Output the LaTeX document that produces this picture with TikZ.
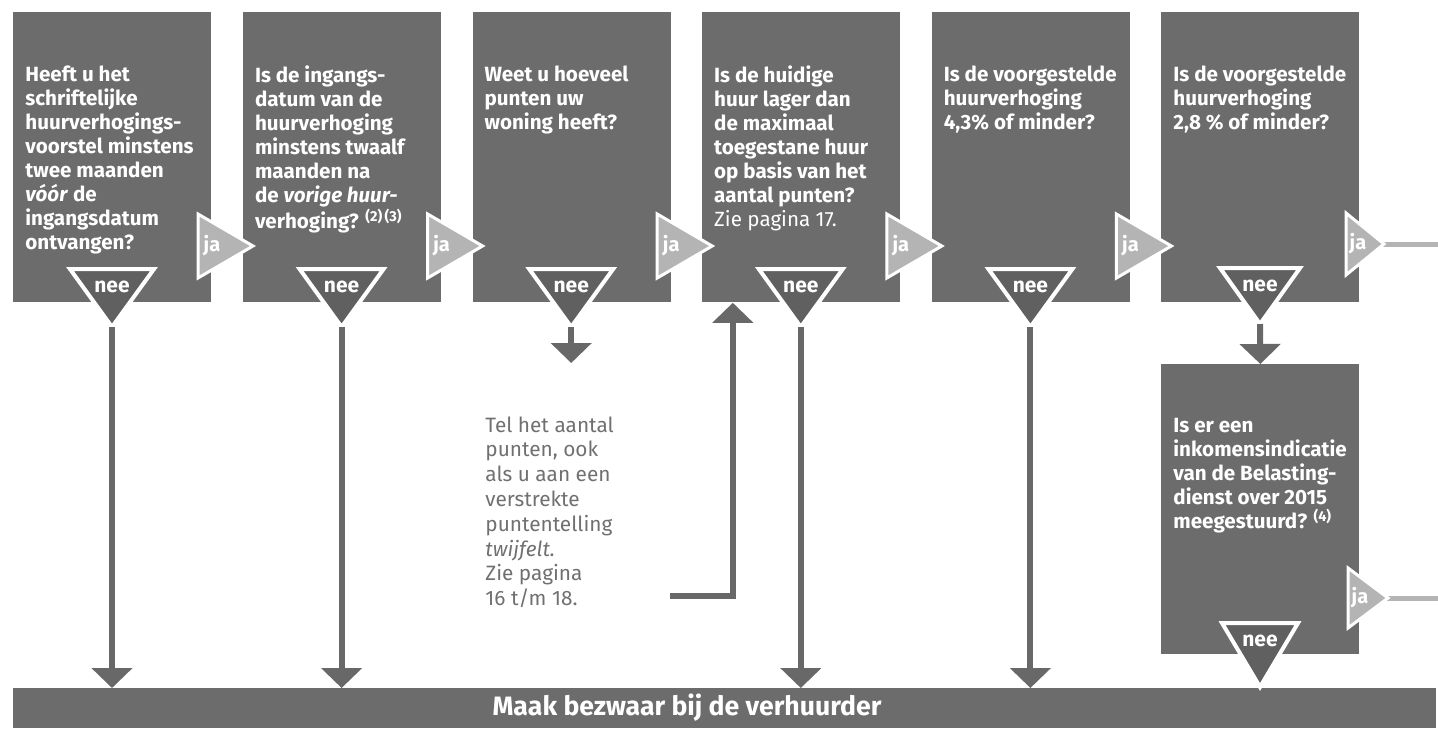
\documentclass[tikz,border=0pt]{standalone}
\usepackage{fontspec}
\setmainfont{Fira Sans}
\usetikzlibrary{arrows.meta,calc}
\definecolor{vakgrijs}{RGB}{108,108,108}
\definecolor{neegrijs}{RGB}{96,96,96}
\definecolor{jagrijs}{RGB}{180,180,180}
\definecolor{pijlgrijs}{RGB}{104,104,104}
\definecolor{tekstgrijs}{RGB}{112,112,112}
\tikzset{
  vak/.style={fill=vakgrijs,anchor=north west,minimum width=99pt,minimum height=145pt,inner sep=0pt},
  vraag/.style={text=white,font=\bfseries\fontsize{10.3}{12}\selectfont,align=left,anchor=north west,inner sep=0pt},
  neevorm/.style={fill=neegrijs,draw=white,line width=2pt},
  neetekst/.style={text=white,font=\bfseries\fontsize{10.5}{12}\selectfont,inner sep=0pt},
  javorm/.style={fill=jagrijs,draw=white,line width=1.5pt},
  jatekst/.style={text=white,font=\bfseries\fontsize{10}{12}\selectfont,inner sep=0pt},
  pijl/.style={draw=pijlgrijs,line width=3pt,-{Triangle[width=20pt,length=10pt]}},
  uitlijn/.style={draw=jagrijs,line width=2.5pt},
  teltekst/.style={text=tekstgrijs,font=\fontsize{10.4}{12.4}\selectfont,align=left,anchor=north west,inner sep=0pt},
  balk/.style={fill=vakgrijs,anchor=north west,minimum width=711.5pt,minimum height=20pt,inner sep=0pt},
  balktekst/.style={text=white,font=\bfseries\fontsize{13.3}{15}\selectfont,inner sep=0pt}
}
\begin{document}
\begin{tikzpicture}[x=0.5pt,y=-0.5pt]
    \useasboundingbox (0,0) rectangle (1438,729);
    \node[vak] (v1) at (13,12) {};
    \node[vak] (v2) at (242.6,12) {};
    \node[vak] (v3) at (472.2,12) {};
    \node[vak] (v4) at (701.8,12) {};
    \node[vak] (v5) at (931.4,12) {};
    \node[vak] (v6) at (1161,12) {};
    \node[vak] (v7) at (1161,364) {};
    \node[balk] (balk) at (13,688) {};
    \node[vraag] (q1) at (25,65) {Heeft u het\\schriftelijke\\huurverhogings-\\voorstel minstens\\twee maanden\\\textit{vóór} de\\ingangsdatum\\ontvangen?};
    \node[vraag] (q2) at (254.6,65) {Is de ingangs-\\datum van de\\huurverhoging\\minstens twaalf\\maanden na\\de \textit{vorige huur-}\\verhoging? \textsuperscript{(2)\,(3)}};
    \node[vraag] (q3) at (484.2,65) {Weet u hoeveel\\punten uw\\woning heeft?};
    \node[vraag] (q4) at (713.8,65) {Is de huidige\\huur lager dan\\de maximaal\\toegestane huur\\op basis van het\\aantal punten?\\{\mdseries Zie pagina 17.}};
    \node[vraag] (q5) at (943.4,65) {Is de voorgestelde\\huurverhoging\\4,3\% of minder?};
    \node[vraag] (q6) at (1173,65) {Is de voorgestelde\\huurverhoging\\2,8 \% of minder?};
    \node[vraag] (q7) at (1173,418) {Is er een\\inkomensindicatie\\van de Belasting-\\dienst over 2015\\meegestuurd? \textsuperscript{(4)}};
    \node[teltekst] (tel) at (485,416) {Tel het aantal\\punten, ook\\als u aan een\\verstrekte\\puntentelling\\\textit{twijfelt.}\\Zie pagina\\16 t/m 18.};
    \node[balktekst] (bezwaar) at (687,708) {Maak bezwaar bij de verhuurder};
    \draw[javorm] (198,214) -- (253,246) coordinate (j1tip) -- (198,278) -- cycle;
    \node[jatekst] (j1) at (212,246) {ja};
    \draw[javorm] (427.6,214) -- (482.6,246) coordinate (j2tip) -- (427.6,278) -- cycle;
    \node[jatekst] (j2) at (441.6,246) {ja};
    \draw[javorm] (657.2,214) -- (712.2,246) coordinate (j3tip) -- (657.2,278) -- cycle;
    \node[jatekst] (j3) at (671.2,246) {ja};
    \draw[javorm] (886.8,214) -- (941.8,246) coordinate (j4tip) -- (886.8,278) -- cycle;
    \node[jatekst] (j4) at (900.8,246) {ja};
    \draw[javorm] (1116.4,214) -- (1171.4,246) coordinate (j5tip) -- (1116.4,278) -- cycle;
    \node[jatekst] (j5) at (1130.4,246) {ja};
    \coordinate (rand6) at (1438,244);
    \draw[uitlijn] (1380,244) -- (rand6);
    \draw[javorm] (1346,213) -- (1384,244) coordinate (j6tip) -- (1346,275) -- cycle;
    \node[jatekst] (j6) at (1358,244) {ja};
    \coordinate (rand7) at (1438,598);
    \draw[uitlijn] (1380,598) -- (rand7);
    \draw[javorm] (1348,568) -- (1388,598) coordinate (j7tip) -- (1348,628) -- cycle;
    \node[jatekst] (j7) at (1360,598) {ja};
    \draw[neevorm] (70,269) -- (154,269) -- (112,327) coordinate (n1tip) -- cycle;
    \node[neetekst] (n1) at (112,287) {nee};
    \draw[neevorm] (299.6,269) -- (383.6,269) -- (341.6,327) coordinate (n2tip) -- cycle;
    \node[neetekst] (n2) at (341.6,287) {nee};
    \draw[neevorm] (529.2,269) -- (613.2,269) -- (571.2,327) coordinate (n3tip) -- cycle;
    \node[neetekst] (n3) at (571.2,287) {nee};
    \draw[neevorm] (758.8,269) -- (842.8,269) -- (800.8,327) coordinate (n4tip) -- cycle;
    \node[neetekst] (n4) at (800.8,287) {nee};
    \draw[neevorm] (988.4,269) -- (1072.4,269) -- (1030.4,327) coordinate (n5tip) -- cycle;
    \node[neetekst] (n5) at (1030.4,287) {nee};
    \draw[neevorm] (1220,268) -- (1300,268) -- (1260,324) coordinate (n6tip) -- cycle;
    \node[neetekst] (n6) at (1260,286) {nee};
    \draw[neevorm] (1222,623) -- (1298,623) -- (1260,687) coordinate (n7tip) -- cycle;
    \node[neetekst] (n7) at (1260,641) {nee};
    \draw[pijl] (n1tip) -- (n1tip |- balk.north);
    \draw[pijl] (n2tip) -- (n2tip |- balk.north);
    \draw[pijl] (n4tip) -- (n4tip |- balk.north);
    \draw[pijl] (n5tip) -- (n5tip |- balk.north);
    \coordinate (telin) at (571.2,363);
    \draw[pijl] (n3tip) -- (telin);
    \draw[pijl] (n6tip) -- (v7.north);
    \coordinate (telpijl) at (670,596);
    \coordinate (v4in) at ([xshift=15.5pt]v4.south west);
    \draw[pijl] (telpijl) -| (v4in);
\end{tikzpicture}
\end{document}
